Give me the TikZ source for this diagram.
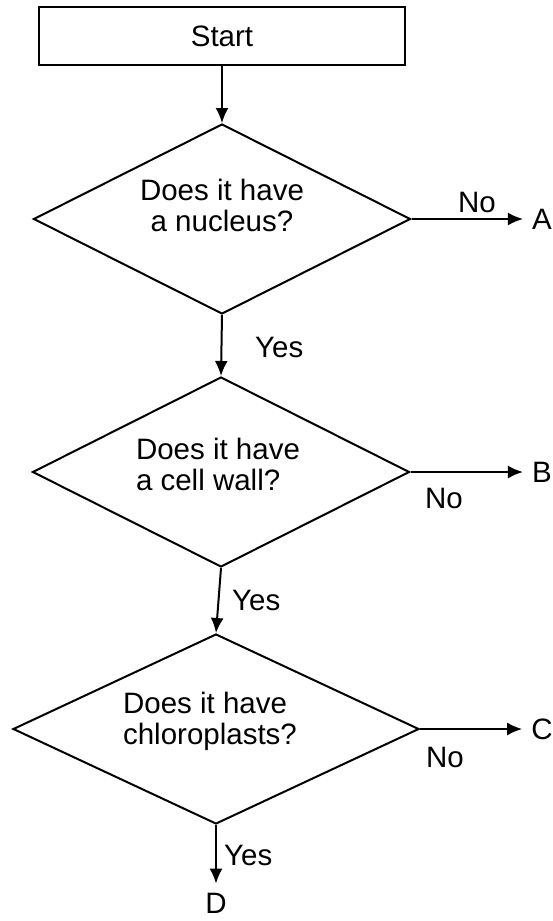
\documentclass[tikz,border=0pt]{standalone}
\usepackage{fontspec}
\setmainfont{Liberation Sans}
\usetikzlibrary{shapes.geometric,arrows.meta}
\begin{document}
\begin{tikzpicture}[x=1pt,y=-1pt,
  every node/.style={font=\fontsize{29.5}{31}\selectfont},
  box/.style={draw,line width=2.4pt,minimum width=366pt,minimum height=58pt,inner sep=0pt},
  decision/.style={draw,diamond,line width=2pt,inner sep=0pt,minimum width=#1,minimum height=190pt},
  qtext/.style={align=#1,inner sep=0pt},
  lbl/.style={inner sep=0pt},
  endlbl/.style={inner sep=9pt},
  arr/.style={line width=2pt,-{Latex[length=15pt,width=13pt]}}
]
\useasboundingbox (0,0) rectangle (553,921);
% boxes
\node[box] (start) at (222,36) {Start};
\node[decision=377pt] (d1) at (222,219) {};
\node[decision=377pt] (d2) at (221,472) {};
\node[decision=406pt] (d3) at (216,729) {};
% question texts
\node[qtext=center] (q1) at (222,205) {Does it have\\a nucleus?};
\node[qtext=left] (q2) at (218,464) {Does it have\\a cell wall?};
\node[qtext=left] (q3) at (210,721) {Does it have\\chloroplasts?};
% end labels
\node[endlbl] (A) at (542,219) {A};
\node[endlbl] (B) at (542,472) {B};
\node[endlbl] (C) at (542,729) {C};
\node[endlbl] (D) at (216,903) {D};
% connectors
\draw[arr] (start) -- (d1.north);
\draw[arr] (d1.south) -- (d2.north);
\draw[arr] (d2.south) -- (d3.north);
\draw[arr] (d3.south) -- (D.north);
\draw[arr] (d1.east) -- (A.west);
\draw[arr] (d2.east) -- (B.west);
\draw[arr] (d3.east) -- (C.west);
% branch labels
\node[lbl,anchor=west] (y1) at (255,347) {Yes};
\node[lbl,anchor=west] (y2) at (232,600) {Yes};
\node[lbl,anchor=west] (y3) at (224,855) {Yes};
\node[lbl] (n1) at (477,202) {No};
\node[lbl] (n2) at (444,498) {No};
\node[lbl] (n3) at (445,757) {No};
\end{tikzpicture}
\end{document}
